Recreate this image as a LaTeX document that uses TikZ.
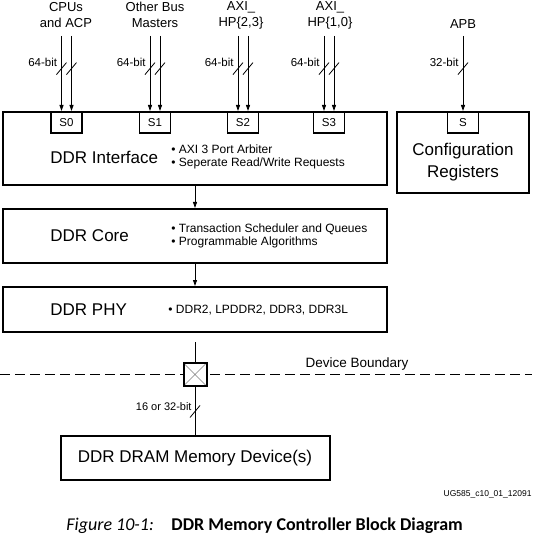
\documentclass[tikz,border=0pt]{standalone}
\usepackage{fontspec}
\setmainfont{Liberation Sans}
\newfontfamily\capfont{Carlito}
\usetikzlibrary{arrows.meta,positioning}
\tikzset{busslash/.pic={\draw[-,solid,line width=0.8pt] (-5pt,-6pt) -- (5pt,6pt);}}

\begin{document}
\begin{tikzpicture}[x=1pt,y=-1pt,line width=0.9pt,
  blk/.style={draw,line width=2pt,minimum width=384pt,inner sep=0pt},
  port/.style={draw,line width=1.8pt,minimum width=31pt,minimum height=21pt,inner sep=0pt,anchor=north,
    font=\fontsize{11.5}{13}\selectfont},
  bus/.style={-{Triangle[length=6pt,width=4pt]},line width=0.9pt},
  title/.style={font=\fontsize{17}{21}\selectfont,align=center,inner sep=0pt},
  bullets/.style={font=\fontsize{12}{13.5}\selectfont,align=left,anchor=west,inner sep=0pt},
  src/.style={font=\fontsize{13}{16}\selectfont,align=center,inner sep=0pt},
  bits/.style={font=\fontsize{11.5}{13}\selectfont,anchor=east,inner sep=0pt}]

  \useasboundingbox (0,0) rectangle (532,534);

  % main blocks
  \node[blk,minimum height=73pt] (iface) at (195,148.5) {};
  \node[blk,minimum height=54pt,below=22pt of iface] (core) {};
  \node[blk,minimum height=45pt,below=22pt of core] (phy) {};
  \node[blk,minimum width=132pt,minimum height=81pt] (cfg) at (463,152.5) {};
  \node[title] (cfgt) at (463,162) {Configuration\\[1pt]Registers};

  \node[title,anchor=west] (ifacet) at (50,157) {DDR Interface};
  \node[bullets] (ifaceb) at (171,157) {\textbullet\ AXI 3 Port Arbiter\\\textbullet\ Seperate Read/Write Requests};
  \node[title,anchor=west] (coret) at (50,236) {DDR Core};
  \node[bullets] (coreb) at (171,236) {\textbullet\ Transaction Scheduler and Queues\\\textbullet\ Programmable Algorithms};
  \node[title,anchor=west] (phyt) at (50,310) {DDR PHY};
  \node[bullets] (phyb) at (168,310) {\textbullet\ DDR2, LPDDR2, DDR3, DDR3L};

  % slave ports
  \foreach \x/\n/\t in {66.5/s0/S0,155/s1/S1,243/s2/S2,329/s3/S3}
    \node[port] (\n) at (\x,111) {\t};
  \node[port] (s) at (463,111) {S};

  % bus masters
  \node[src] (cpu) at (66,15) {CPUs\\and ACP};
  \node[src] (obm) at (155,15) {Other Bus\\Masters};
  \node[src] (hpa) at (241,15) {AXI\_\\HP\{2,3\}};
  \node[src] (hpb) at (330,15) {AXI\_\\HP\{1,0\}};
  \node[src] (apb) at (463,24) {APB};

  % 64-bit buses
  \foreach \p in {s0,s1,s2,s3} {
    \path (\p.north) ++(-5,-75) coordinate (\p-a) ++(10,0) coordinate (\p-b);
    \draw[bus] (\p-a) -- node[pos=.355,bits,xshift=-4pt] {64-bit} pic[pos=.434] {busslash} (\p-a |- \p.north);
    \draw[bus] (\p-b) -- pic[pos=.434] {busslash} (\p-b |- \p.north);
  }
  \path (s.north) ++(0,-75) coordinate (s-a);
  \draw[bus] (s-a) -- node[pos=.355,bits,xshift=-4pt] {32-bit} pic[pos=.434] {busslash} (s.north);

  \draw[bus] (iface) -- (core);
  \draw[bus] (core) -- (phy);

  % device boundary
  \coordinate (bl) at (0,374.5);
  \coordinate (br) at (532,374.5);
  \draw[dash pattern=on 10pt off 5pt,line width=0.9pt] (bl) -- (br);
  \node[font=\fontsize{13.5}{15}\selectfont] (bound) at (357,364) {Device Boundary};

  \node[draw,line width=2pt,fill=white,minimum size=23pt,inner sep=0pt,
    path picture={\draw[gray,line width=0.6pt]
      (path picture bounding box.north west) -- (path picture bounding box.south east)
      (path picture bounding box.south west) -- (path picture bounding box.north east);}] (pad) at (195,374.5) {};

  \node[blk,minimum width=269pt,minimum height=44pt,font=\fontsize{17}{20}\selectfont] (mem) at (195,458)
    {DDR DRAM Memory Device(s)};

  \coordinate (phyout) at ([yshift=-9pt]phy.south);
  \draw (phyout) -- (pad);
  \draw (pad) -- node[pos=.41,bits,xshift=-3pt,font=\fontsize{11}{13}\selectfont] {16 or 32-bit}
    pic[pos=.51] {busslash} (mem);

  % figure id and caption
  \node[font=\fontsize{8.5}{10}\selectfont,anchor=east,inner sep=0pt] (ug) at (532,494) {UG585\_c10\_01\_12091};
  \node[font=\capfont\fontsize{18}{20}\selectfont,anchor=west,inner sep=0pt] (fig) at (66,526) {\itshape Figure 10-1:};
  \node[font=\capfont\fontsize{18}{20}\selectfont,anchor=west,inner sep=0pt] (cap) at (171,526)
    {\bfseries DDR Memory Controller Block Diagram};
\end{tikzpicture}
\end{document}
